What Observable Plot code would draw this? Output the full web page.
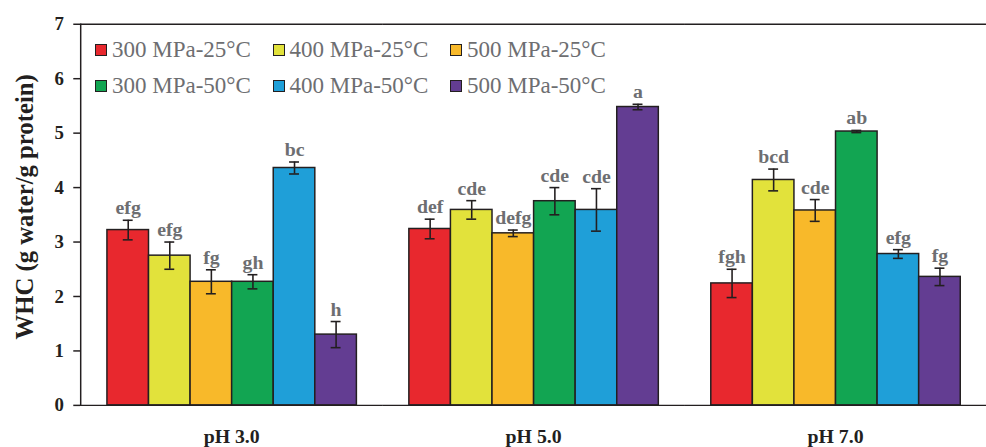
<!DOCTYPE html>
<html>
<head>
<meta charset="utf-8">
<script src="https://cdn.jsdelivr.net/npm/d3@7"></script>
<script src="https://cdn.jsdelivr.net/npm/@observablehq/plot@0.6"></script>
<style>
  body { margin: 0; background: #fff; overflow: hidden; }
  #wrap { position: relative; width: 986px; height: 447px; overflow: hidden; }
  #wrap svg { position: absolute; left: 0; top: 0; }
  #legend { position: absolute; left: 95px; top: 32px; display: grid;
    grid-template-columns: repeat(3, 177.5px); grid-auto-rows: 36px;
    font-family: "Liberation Serif", "Times New Roman", serif; font-size: 23px; color: #6d6e71; }
  #legend .item { display: flex; align-items: center; white-space: nowrap; }
  #legend .sw { width: 10px; height: 10px; border: 1.5px solid #231f20; margin-right: 5px; flex: none; }
</style>
</head>
<body>
<div id="wrap"><div id="legend"></div></div>
<script>
const groups = ["pH 3.0", "pH 5.0", "pH 7.0"];
const series = ["300 MPa-25°C", "400 MPa-25°C", "500 MPa-25°C", "300 MPa-50°C", "400 MPa-50°C", "500 MPa-50°C"];
const colors = ["#e8282e", "#e2e23b", "#f8b92a", "#12a552", "#1f9fd8", "#633d92"];
const valuesPH3 = [3.22, 2.75, 2.27, 2.27, 4.36, 1.30];
const valuesPH5 = [3.24, 3.59, 3.16, 3.75, 3.59, 5.48];
const valuesPH7 = [2.24, 4.14, 3.58, 5.03, 2.78, 2.36];
const errorsPH3 = [0.18, 0.25, 0.22, 0.13, 0.11, 0.24];
const errorsPH5 = [0.18, 0.17, 0.06, 0.25, 0.39, 0.05];
const errorsPH7 = [0.26, 0.20, 0.20, 0.02, 0.08, 0.16];
const lettersPH3 = ["efg", "efg", "fg", "gh", "bc", "h"];
const lettersPH5 = ["def", "cde", "defg", "cde", "cde", "a"];
const lettersPH7 = ["fgh", "bcd", "cde", "ab", "efg", "fg"];
const yTicks = [0, 1, 2, 3, 4, 5, 6, 7];
const yLabel = "WHC (g water/g protein)";

const vals = [valuesPH3, valuesPH5, valuesPH7];
const errs = [errorsPH3, errorsPH5, errorsPH7];
const lets = [lettersPH3, lettersPH5, lettersPH7];
const data = [];
groups.forEach((g, gi) => series.forEach((s, si) => {
  data.push({group: g, series: s, value: vals[gi][si], err: errs[gi][si], letter: lets[gi][si]});
}));

const serif = '"Liberation Serif", "Times New Roman", serif';
const ink = "#231f20";

const chart = Plot.plot({
  width: 996,
  height: 447,
  marginTop: 24,
  marginBottom: 38,
  marginLeft: 81,
  marginRight: 0,
  style: {fontFamily: serif, background: "#fff", overflow: "visible"},
  fx: {domain: groups, padding: 0, axis: null},
  x: {domain: series, paddingInner: 0, paddingOuter: 0.588, axis: null},
  y: {domain: [0, 7], axis: null},
  color: {domain: series, range: colors},
  marks: [
    Plot.barY(data, {fx: "group", x: "series", y: "value", fill: "series", stroke: ink, strokeWidth: 1.5}),
    Plot.ruleX(data, {fx: "group", x: "series", y1: d => d.value - d.err, y2: d => d.value + d.err, stroke: ink, strokeWidth: 1.6}),
    Plot.tickY(data, {fx: "group", x: "series", y: d => d.value - d.err, stroke: ink, strokeWidth: 1.6, insetLeft: 16, insetRight: 16}),
    Plot.tickY(data, {fx: "group", x: "series", y: d => d.value + d.err, stroke: ink, strokeWidth: 1.6, insetLeft: 16, insetRight: 16}),
    Plot.text(data, {fx: "group", x: "series", y: d => d.value + d.err, text: "letter", dy: -6, lineAnchor: "bottom",
      fill: "#6d6e71", fontSize: 20, fontWeight: "bold", fontFamily: serif}),
    Plot.ruleY([0, 7], {stroke: ink, strokeWidth: 1.5}),
    Plot.frame({anchor: "left", facetAnchor: "left", stroke: ink, strokeWidth: 1.5}),
    Plot.axisY({ticks: yTicks, tickFormat: d3.format("d"), tickSize: 7, tickPadding: 10,
      fontSize: 19, fontWeight: "bold", fill: ink, stroke: ink, strokeWidth: 1.5, label: null}),
    Plot.text([yLabel], {frameAnchor: "left", facetAnchor: "left", rotate: -90, dx: -56, dy: -8,
      lineAnchor: "middle", textAnchor: "middle", fontSize: 25, fontWeight: "bold", fill: ink, fontFamily: serif}),
    Plot.axisFx({anchor: "bottom", tickSize: 0, tickPadding: 24, fontSize: 20, fontWeight: "bold", fill: ink, label: null})
  ]
});
document.getElementById("wrap").prepend(chart);

const legend = document.getElementById("legend");
series.forEach((s, i) => {
  const it = document.createElement("div");
  it.className = "item";
  it.innerHTML = `<span class="sw" style="background:${colors[i]}"></span><span>${s}</span>`;
  legend.appendChild(it);
});
</script>
</body>
</html>
